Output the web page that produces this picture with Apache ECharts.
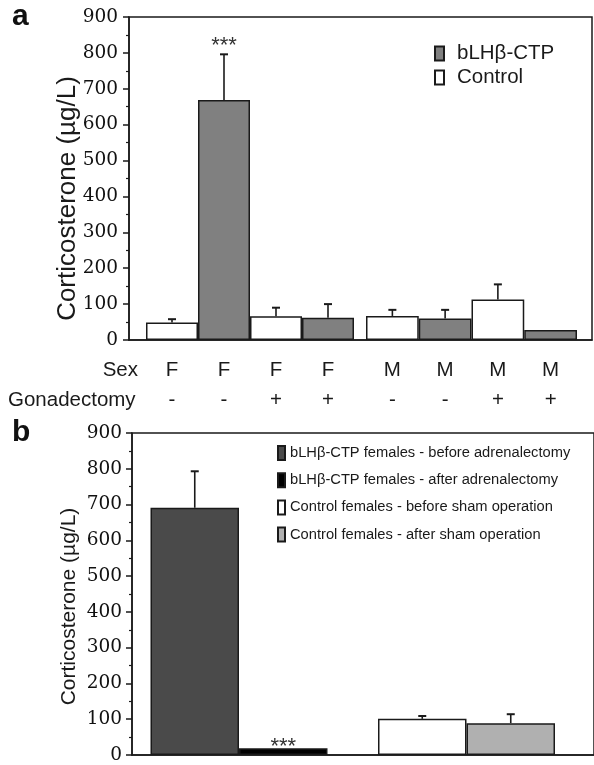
<!DOCTYPE html>
<html>
<head>
<meta charset="utf-8">
<script src="https://cdn.jsdelivr.net/npm/echarts@6/dist/echarts.min.js"></script>
<style>
html,body{margin:0;padding:0;background:#fff;}
#c{width:594px;height:765px;}
</style>
</head>
<body>
<div id="c"></div>
<script>
// ---------------- Panel a data ----------------
const sexLabels   = ['F', 'F', 'F', 'F', 'M', 'M', 'M', 'M'];
const gonadLabels = ['-', '-', '+', '+', '-', '-', '+', '+'];
const groupA      = ['Control', 'bLHβ-CTP', 'Control', 'bLHβ-CTP', 'Control', 'bLHβ-CTP', 'Control', 'bLHβ-CTP'];
const valuesA     = [49, 669, 66, 62, 67, 60, 113, 28];
const errTopA     = [58, 796, 90, 100, 84, 84, 155, null];
const signifA     = ['', '***', '', '', '', '', '', ''];
const legendA     = ['bLHβ-CTP', 'Control'];

// ---------------- Panel b data ----------------
const categoriesB = ['bLHβ-CTP females', 'Control females'];
const seriesB     = ['bLHβ-CTP females - before adrenalectomy',
                     'bLHβ-CTP females - after adrenalectomy',
                     'Control females - before sham operation',
                     'Control females - after sham operation'];
const catOfB      = [0, 0, 1, 1];
const stackOfB    = ['before', 'after', 'before', 'after'];
const valuesB     = [691, 19, 101, 89];
const errTopB     = [793, null, 109, 114];
const signifB     = ['', '***', '', ''];

// ---------------- Axis ----------------
const yMin = 0, yMax = 900, yStep = 100;
const yTitle = 'Corticosterone (µg/L)';

// ---------------- Styles ----------------
const SANS = '"Liberation Sans", Arial, sans-serif';
const SERIF = '"DejaVu Serif", serif';
const INK = '#1a1a1a';
const colorA = { 'bLHβ-CTP': '#808080', 'Control': '#ffffff' };
const colorsB = ['#4a4a4a', '#000000', '#ffffff', '#b0b0b0'];
const BAR_W_B = 88.5;

const chart = echarts.init(document.getElementById('c'));

function frameY(name, nameSize, nameGap, shift, labelMargin) {
  return {
    type: 'value', min: yMin, max: yMax, interval: yStep,
    axisLine: { show: true, lineStyle: { color: INK, width: 1.5 } },
    axisTick: { show: true, inside: false, length: 6, lineStyle: { color: INK, width: 1.5 } },
    minorTick: { show: true, splitNumber: 2, length: 3, lineStyle: { color: INK, width: 1.2 } },
    axisLabel: { fontFamily: SERIF, fontSize: 18.5, color: '#111', margin: labelMargin },
    splitLine: { show: false },
    name: name, nameLocation: 'middle', nameGap: nameGap, nameMoveOverlap: false,
    nameTextStyle: { fontFamily: SANS, fontSize: nameSize, color: INK, padding: [0, shift, 0, 0] }
  };
}
function frameX(gridIndex) {
  return {
    gridIndex: gridIndex, type: 'value', min: 0, max: 1,
    axisLine: { show: true, lineStyle: { color: INK, width: 1.5 } },
    axisTick: { show: false }, axisLabel: { show: false }, splitLine: { show: false }
  };
}
function hiddenY(gridIndex) {
  return { gridIndex: gridIndex, type: 'value', min: yMin, max: yMax, show: false, splitLine: { show: false } };
}

// panel a halves
const idxF = [0, 1, 2, 3], idxM = [4, 5, 6, 7];
function catAxisA(gridIndex, idx) {
  return {
    gridIndex: gridIndex, type: 'category', data: idx.map(String),
    axisLine: { show: false }, axisTick: { show: false },
    axisLabel: {
      interval: 0, margin: 15, lineHeight: 30, fontFamily: SANS, fontSize: 20.5, color: INK,
      formatter: (v, i) => sexLabels[idx[i]] + '\n' + gonadLabels[idx[i]]
    },
    splitLine: { show: false }
  };
}
function barsA(name, idx, axis) {
  return {
    type: 'bar', name: name, xAxisIndex: axis, yAxisIndex: axis,
    barWidth: '100%', barGap: '-100%',
    itemStyle: { color: colorA[name], borderColor: INK, borderWidth: 1.5 },
    data: idx.map(k => groupA[k] === name ? valuesA[k] : '-')
  };
}
function errSeries(axis, items, offsets, capHalf, sigOffset) {
  return {
    type: 'custom', name: 'err' + axis, xAxisIndex: axis, yAxisIndex: axis, z: 5,
    data: items.map(it => [it.cat, it.v, it.e == null ? it.v : it.e]),
    renderItem: function (params, api) {
      const it = items[params.dataIndex];
      const dx = offsets[params.dataIndex];
      const p0 = api.coord([api.value(0), api.value(1)]);
      const p1 = api.coord([api.value(0), api.value(2)]);
      const x = p0[0] + dx;
      const children = [];
      if (it.e != null) {
        children.push({ type: 'line', shape: { x1: x, y1: p0[1], x2: x, y2: p1[1] },
          style: { stroke: INK, lineWidth: 1.6 } });
        children.push({ type: 'line', shape: { x1: x - capHalf, y1: p1[1], x2: x + capHalf, y2: p1[1] },
          style: { stroke: INK, lineWidth: 2 } });
      }
      if (it.s) {
        children.push({ type: 'text', x: x, y: p1[1] - sigOffset,
          style: { text: it.s, fontFamily: SANS, fontSize: 22, fill: '#333', align: 'center', verticalAlign: 'middle' } });
      }
      return { type: 'group', children: children };
    }
  };
}

const itemsF = idxF.map((k, i) => ({ cat: i, v: valuesA[k], e: errTopA[k], s: signifA[k] }));
const itemsM = idxM.map((k, i) => ({ cat: i, v: valuesA[k], e: errTopA[k], s: signifA[k] }));
const itemsB = valuesB.map((v, i) => ({ cat: catOfB[i], v: v, e: errTopB[i], s: signifB[i] }));
const offsB = stackOfB.map(s => (s === 'before' ? -1 : 1) * BAR_W_B / 2);

const option = {
  animation: false,
  backgroundColor: '#fff',
  grid: [
    { left: 129, right: 2, top: 17, bottom: 425, show: true, borderColor: INK, borderWidth: 1.5, backgroundColor: 'transparent' }, // frame a
    { left: 146, width: 208, top: 17, bottom: 425 },   // F bars
    { left: 366, width: 211, top: 17, bottom: 425 },   // M bars
    { left: 132, right: -10, top: 433, bottom: 10, show: true, borderColor: INK, borderWidth: 1.5, backgroundColor: 'transparent' }, // frame b
    { left: 125.25, right: 13.75, top: 433, bottom: 10 } // b bars
  ],
  xAxis: [
    frameX(0),
    catAxisA(1, idxF),
    catAxisA(2, idxM),
    frameX(3),
    { gridIndex: 4, type: 'category', data: categoriesB, show: false }
  ],
  yAxis: [
    Object.assign({ gridIndex: 0 }, frameY(yTitle, 26, 48, 40, 11)),
    hiddenY(1), hiddenY(2),
    Object.assign({ gridIndex: 3 }, frameY(yTitle, 21, 52, 25, 10)),
    hiddenY(4)
  ],
  legend: [
    {
      data: legendA, orient: 'vertical', left: 434, top: 43, padding: 0, itemWidth: 9, itemHeight: 14, itemGap: 3,
      icon: 'rect', selectedMode: false,
      textStyle: { fontFamily: SANS, fontSize: 20.5, color: INK, padding: [0, 0, 0, 8] }
    },
    {
      data: seriesB, orient: 'vertical', left: 277, top: 445, padding: 0, itemWidth: 7, itemHeight: 14, itemGap: 11.2,
      icon: 'rect', selectedMode: false,
      textStyle: { fontFamily: SANS, fontSize: 14.7, color: INK }
    }
  ],
  graphic: [
    { type: 'text', left: 12, top: 2, style: { text: 'a', fontFamily: SANS, fontWeight: 'bold', fontSize: 30, fill: '#111' } },
    { type: 'text', left: 12, top: 418, style: { text: 'b', fontFamily: SANS, fontWeight: 'bold', fontSize: 30, fill: '#111' } },
    { type: 'text', x: 138, y: 370, style: { text: 'Sex', fontFamily: SANS, fontSize: 20.5, fill: INK, align: 'right', verticalAlign: 'middle' } },
    { type: 'text', x: 8, y: 400, style: { text: 'Gonadectomy', fontFamily: SANS, fontSize: 20.5, fill: INK, align: 'left', verticalAlign: 'middle' } }
  ],
  series: [
    barsA('Control', idxF, 1), barsA('bLHβ-CTP', idxF, 1),
    barsA('Control', idxM, 2), barsA('bLHβ-CTP', idxM, 2),
    errSeries(1, itemsF, itemsF.map(() => 0), 4, 8),
    errSeries(2, itemsM, itemsM.map(() => 0), 4, 8),
  ].concat(seriesB.map((name, i) => ({
    type: 'bar', name: name, xAxisIndex: 4, yAxisIndex: 4, stack: stackOfB[i],
    barWidth: BAR_W_B, barGap: '0%',
    itemStyle: { color: colorsB[i], borderColor: INK, borderWidth: 1.5 },
    data: categoriesB.map((c, j) => j === catOfB[i] ? valuesB[i] : '-')
  }))).concat([errSeries(4, itemsB, offsB, 4, 1)])
};
chart.setOption(option);
</script>
</body>
</html>
